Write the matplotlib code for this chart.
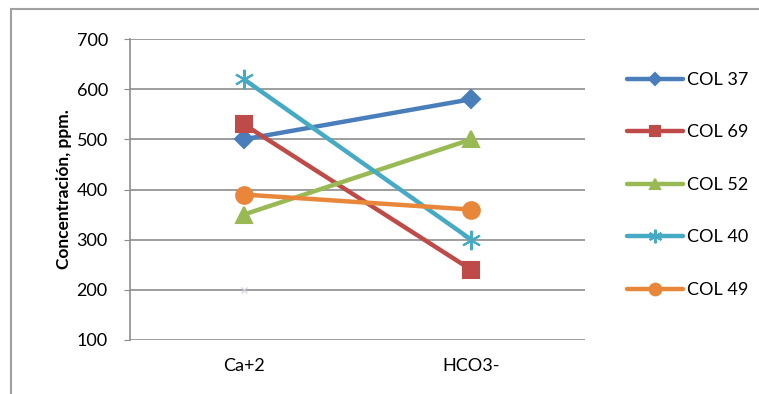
import matplotlib.pyplot as plt
from matplotlib.patches import Rectangle

plt.rcParams['font.family'] = ['Lato', 'DejaVu Sans']

categories = ['Ca+2', 'HCO3-']
col37 = [500, 580]
col69 = [530, 240]
col52 = [350, 500]
col40 = [620, 300]
col49 = [390, 360]
stray = [200]

series = [
    ('COL 37', col37, '#4A7EBB', 'D', 9),
    ('COL 69', col69, '#BE4B48', 's', 11),
    ('COL 52', col52, '#98B954', '^', 11),
    ('COL 40', col40, '#46AAC5', (6, 2, 0), 14),
    ('COL 49', col49, '#E8873A', 'o', 12),
]

fig = plt.figure(figsize=(7.59, 3.94), dpi=100)
ax = fig.add_axes([130 / 759, 1 - 340 / 394, 455 / 759, 301 / 394])

# outer chart frame
fig.patches.append(Rectangle((11 / 759, -0.1), 1.2, 1 - 9 / 394 + 0.1,
                             transform=fig.transFigure, fill=False,
                             edgecolor='#A0A0A0', linewidth=1.5))

x = list(range(len(categories)))
for name, vals, color, marker, ms in series:
    ax.plot(x, vals, color=color, linewidth=3.2, marker=marker,
            markersize=ms, markeredgecolor=color, markeredgewidth=1.5,
            label=name, solid_capstyle='round')

ax.plot([0], stray, linestyle='none', marker='x', markersize=5,
        color='#CFCFE6', markeredgewidth=0.8)

ax.set_xlim(-0.5, 1.5)
ax.set_ylim(100, 700)
ax.set_yticks(range(100, 701, 100))
ax.set_xticks(x)
ax.set_xticklabels(categories, fontsize=13)
ax.tick_params(axis='y', labelsize=13, length=4, color='#8C8C8C', pad=12)
ax.tick_params(axis='x', length=0, pad=13)
ax.grid(axis='y', color='#8C8C8C', linewidth=1.2)
ax.set_axisbelow(True)
for side in ['top', 'right', 'bottom']:
    ax.spines[side].set_visible(False)
ax.spines['left'].set_color('#8C8C8C')
ax.spines['left'].set_linewidth(1.2)

ax.set_ylabel('Concentración, ppm.', fontsize=12.5, fontweight='bold', labelpad=3)

leg = ax.legend(loc='upper left', bbox_to_anchor=(627 / 759, 1 - 72 / 394),
                bbox_transform=fig.transFigure, frameon=False, fontsize=13,
                handlelength=3.1, handletextpad=0.22, labelspacing=2.02,
                borderaxespad=0, borderpad=0, markerscale=0.7)

fig.savefig('out.png', dpi=100)
